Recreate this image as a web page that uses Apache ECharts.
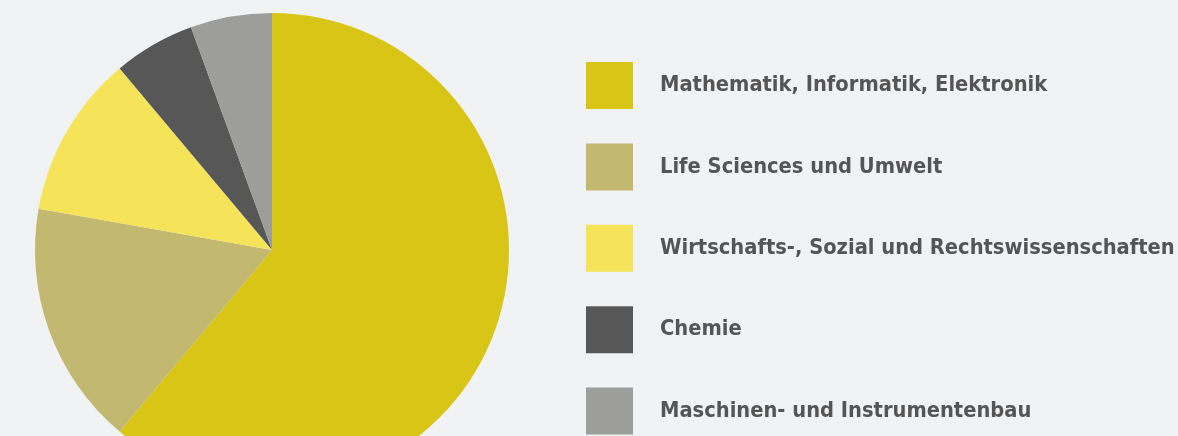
<!DOCTYPE html>
<html>
<head>
<meta charset="utf-8">
<script src="https://cdn.jsdelivr.net/npm/echarts@6/dist/echarts.min.js"></script>
<style>
  html, body { margin: 0; padding: 0; background: #f1f2f4; }
  #chart { width: 1178px; height: 436px; }
</style>
</head>
<body>
<div id="chart"></div>
<script>
  // Fachbereiche und Anteile
  let categories = ['Mathematik, Informatik, Elektronik', 'Life Sciences und Umwelt', 'Wirtschafts-, Sozial und Rechtswissenschaften', 'Chemie', 'Maschinen- und Instrumentenbau']
  let values = [11, 3, 2, 1, 1]
  let colors = ['#d8c515', '#c2b870', '#f5e35a', '#575757', '#9d9d9b']

  let myChart = echarts.init(document.getElementById('chart'))
  let option = {
    backgroundColor: '#f1f2f4',
    animation: false,
    color: colors,
    legend: {
      orient: 'vertical',
      left: 586,
      top: 62,
      padding: 0,
      itemWidth: 47,
      itemHeight: 47,
      itemGap: 34.4,
      icon: 'rect',
      selectedMode: false,
      data: categories,
      textStyle: {
        fontFamily: '"DejaVu Sans Condensed", sans-serif',
        fontWeight: 'bold',
        fontSize: 21.7,
        color: '#555555',
        padding: [0, 0, 0, 22]
      }
    },
    series: [{
      type: 'pie',
      center: [272, 250],
      radius: [0, 237],
      startAngle: 90,
      clockwise: true,
      label: { show: false },
      labelLine: { show: false },
      emphasis: { disabled: true },
      itemStyle: { borderWidth: 0 },
      data: categories.map(function (name, i) {
        return { name: name, value: values[i] }
      })
    }]
  }
  myChart.setOption(option)
</script>
</body>
</html>
